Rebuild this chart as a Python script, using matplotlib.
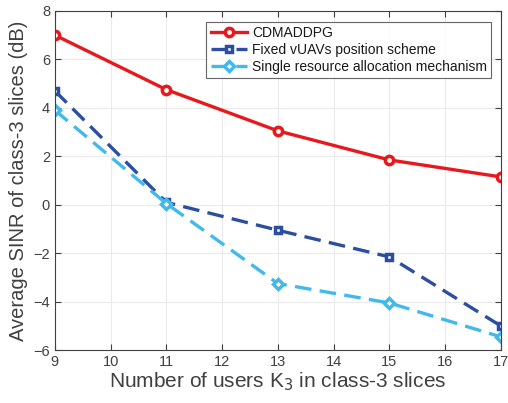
import matplotlib
matplotlib.use('Agg')
import matplotlib.pyplot as plt
import numpy as np

plt.rcParams['font.family'] = ['Liberation Sans', 'DejaVu Sans']

users = [9, 11, 13, 15, 17]
cdmaddpg = [7.0, 4.75, 3.05, 1.85, 1.15]
fixed_pos = [4.7, 0.1, -1.05, -2.15, -5.0]
single_res = [3.9, 0.05, -3.25, -4.05, -5.45]

labels = ['CDMADDPG', 'Fixed vUAVs position scheme', 'Single resource allocation mechanism']

txt = '#404040'

fig = plt.figure(figsize=(5.08, 4.03), dpi=100)
ax = fig.add_axes([0.108, 0.131, 0.878, 0.842])

ax.plot(users, cdmaddpg, '-o', color='#e8191c', lw=2.4, ms=6, mfc='white', mew=2.5, label=labels[0])
ax.plot(users, fixed_pos, '--s', color='#2b4ea0', lw=2.4, ms=5, mfc='white', mew=2.5,
        dashes=(5, 2.5), label=labels[1])
ax.plot(users, single_res, '--D', color='#42b9ec', lw=2.4, ms=5.5, mfc='white', mew=2.5,
        dashes=(5, 2.5), label=labels[2])

ax.set_xlim(9, 17)
ax.set_ylim(-6, 8)
ax.set_xticks(np.arange(9, 18, 1))
ax.set_yticks(np.arange(-6, 9, 2))
ax.grid(True, color='#ebebeb', lw=0.8)
ax.tick_params(labelsize=10.5, colors=txt, direction='in', length=4, top=True, right=True)
for s in ax.spines.values():
    s.set_color(txt)
    s.set_linewidth(0.8)

ax.set_xlabel('Number of users K$_3$ in class-3 slices', fontsize=15, color=txt, labelpad=1)
ax.set_ylabel('Average SINR of class-3 slices (dB)', fontsize=14.5, color=txt, labelpad=4)

leg = ax.legend(loc='upper right', bbox_to_anchor=(0.985, 0.975), fontsize=10, frameon=True,
                fancybox=False, edgecolor=txt, handlelength=2.6, borderpad=0.3,
                labelspacing=0.2, handletextpad=0.4, borderaxespad=0.2)
leg.get_frame().set_linewidth(0.8)
for t in leg.get_texts():
    t.set_color('#1a1a1a')

fig.savefig('out.png', dpi=100)
